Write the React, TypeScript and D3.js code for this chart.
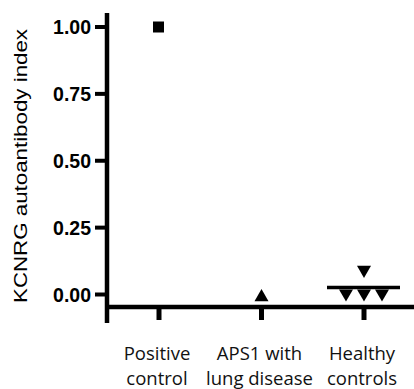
import React from "react";
import * as d3 from "d3";

const categories = ["Positive control", "APS1 with lung disease", "Healthy controls"];
const categoryLines = [["Positive", "control"], ["APS1 with", "lung disease"], ["Healthy", "controls"]];
const positiveControl = [1.0];
const aps1LungDisease = [-0.01];
const healthyControls = [0.092, 0.004, 0.004, 0.004];
const yTicks = [0, 0.25, 0.5, 0.75, 1.0];
const yLabel = "KCNRG autoantibody index";

const W = 414;
const H = 389;

export default function App() {
  const y = d3.scaleLinear().domain([0, 1]).range([294.5, 27]);
  const x = d3.scalePoint<string>().domain(categories).range([159, 364]);
  const axisX = 107;
  const axisY = 307;
  const yAxisTop = y(1.052);
  const yAxisBottom = 323;

  const square = d3.symbol().type(d3.symbolSquare).size(121)()!;
  const tri = d3.symbol().type(d3.symbolTriangle).size(85)()!;

  // spread points with near-equal values horizontally
  function spread(vals: number[]) {
    const groups: number[][] = [];
    vals.forEach((v, i) => {
      const g = groups.find((gg) => Math.abs(vals[gg[0]] - v) < 0.02);
      if (g) g.push(i);
      else groups.push([i]);
    });
    const offs = new Array(vals.length).fill(0);
    groups.forEach((g) => g.forEach((idx, k) => (offs[idx] = (k - (g.length - 1) / 2) * 18)));
    return offs;
  }

  const healthyOffs = spread(healthyControls);
  const healthyMean = d3.mean(healthyControls)!;
  const hx = x(categories[2])!;

  return (
    <svg width={W} height={H} style={{ position: "absolute", left: 0, top: 0, background: "#fff" }}>
      {/* Y axis */}
      <line x1={axisX} x2={axisX} y1={yAxisTop} y2={yAxisBottom} stroke="#000" strokeWidth={4.5} />
      {yTicks.map((t) => (
        <g key={t}>
          <line x1={95} x2={axisX} y1={y(t)} y2={y(t)} stroke="#000" strokeWidth={4} />
          <text
            x={91}
            y={y(t)}
            dy="0.36em"
            textAnchor="end"
            fontFamily="'Liberation Sans', Arial, sans-serif"
            fontWeight="bold"
            fontSize={19.5}
          >
            {d3.format(".2f")(t)}
          </text>
        </g>
      ))}
      {/* X axis */}
      <line x1={axisX - 2} x2={W} y1={axisY} y2={axisY} stroke="#000" strokeWidth={4.5} />
      {categories.map((c, i) => (
        <g key={c}>
          <line x1={x(c)!} x2={x(c)!} y1={axisY} y2={320} stroke="#000" strokeWidth={5} />
          {categoryLines[i].map((ln, j) => (
            <text
              key={j}
              x={x(c)! - 2}
              y={360 + j * 25}
              textAnchor="middle"
              fontFamily="'Open Sans', 'Noto Sans', sans-serif"
              fontSize={18.5}
              fill="#111"
            >
              {ln}
            </text>
          ))}
        </g>
      ))}
      {/* Y label */}
      <text
        transform={`translate(27,166) rotate(-90)`}
        textAnchor="middle"
        fontFamily="'Liberation Sans', Arial, sans-serif"
        fontSize={18}
        textLength={274}
        lengthAdjust="spacingAndGlyphs"
      >
        {yLabel}
      </text>
      {/* Positive control */}
      {positiveControl.map((v, i) => (
        <path key={"p" + i} d={square} transform={`translate(${x(categories[0])! - 0.5},${y(v)})`} fill="#000" />
      ))}
      {/* APS1 */}
      {aps1LungDisease.map((v, i) => (
        <path key={"a" + i} d={tri} transform={`translate(${x(categories[1])!},${y(v)})`} fill="#000" />
      ))}
      {/* Healthy */}
      {healthyControls.map((v, i) => (
        <path
          key={"h" + i}
          d={tri}
          transform={`translate(${hx + healthyOffs[i]},${y(v)}) rotate(180)`}
          fill="#000"
        />
      ))}
      <line x1={hx - 37} x2={hx + 36} y1={y(healthyMean)} y2={y(healthyMean)} stroke="#000" strokeWidth={3.5} />
    </svg>
  );
}
